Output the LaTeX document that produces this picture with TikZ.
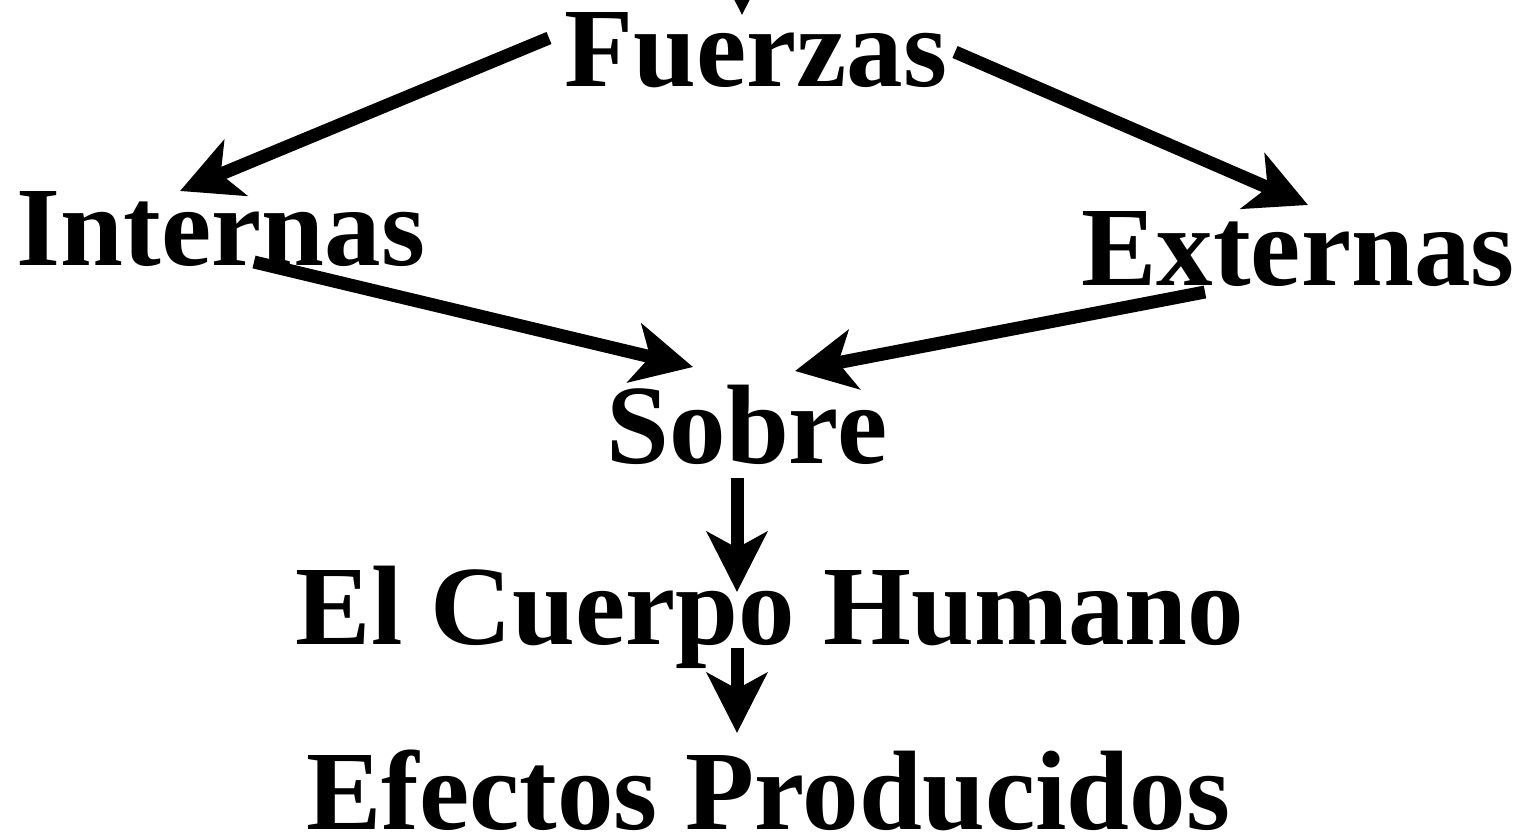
\documentclass[tikz,border=0pt]{standalone}
\usepackage{fontspec}
\setmainfont{Liberation Serif}
\usetikzlibrary{arrows.meta}

\begin{document}
\begin{tikzpicture}[x=1pt,y=-1pt,>={Stealth[length=60pt,width=60pt,inset=16pt]},line width=13pt,every node/.style={inner sep=0pt,anchor=base,font=\fontsize{113}{120}\selectfont\bfseries}]
\useasboundingbox (0,0) rectangle (1521,840);
\node (fuerzas) at (756,87) {Fuerzas};
\node (internas) at (221,265) {Internas};
\node (externas) at (1298,285) {Externas};
\node (sobre) at (747,463) {Sobre};
\node (cuerpo) at (770,644) {El Cuerpo Humano};
\node (efectos) at (768,829) {Efectos Producidos};
\coordinate (fz-in) at (742,-120);
\coordinate (fz-top) at (742,15);
\coordinate (fz-l) at (549,38);
\coordinate (fz-r) at (955,52);
\coordinate (in-top) at (180,191);
\coordinate (ex-top) at (1308,205);
\coordinate (in-out) at (254,262);
\coordinate (ex-out) at (1205,292);
\coordinate (so-l) at (693,367);
\coordinate (so-r) at (795,371);
\coordinate (so-out) at (737,478);
\coordinate (cu-top) at (737,592);
\coordinate (cu-out) at (737,648);
\coordinate (ef-top) at (737,733);
\draw[->] (fz-in) -- (fz-top);
\draw[->] (fz-l) -- (in-top);
\draw[->] (fz-r) -- (ex-top);
\draw[->] (in-out) -- (so-l);
\draw[->] (ex-out) -- (so-r);
\draw[->] (so-out) -- (cu-top);
\draw[->] (cu-out) -- (ef-top);
\end{tikzpicture}
\end{document}
